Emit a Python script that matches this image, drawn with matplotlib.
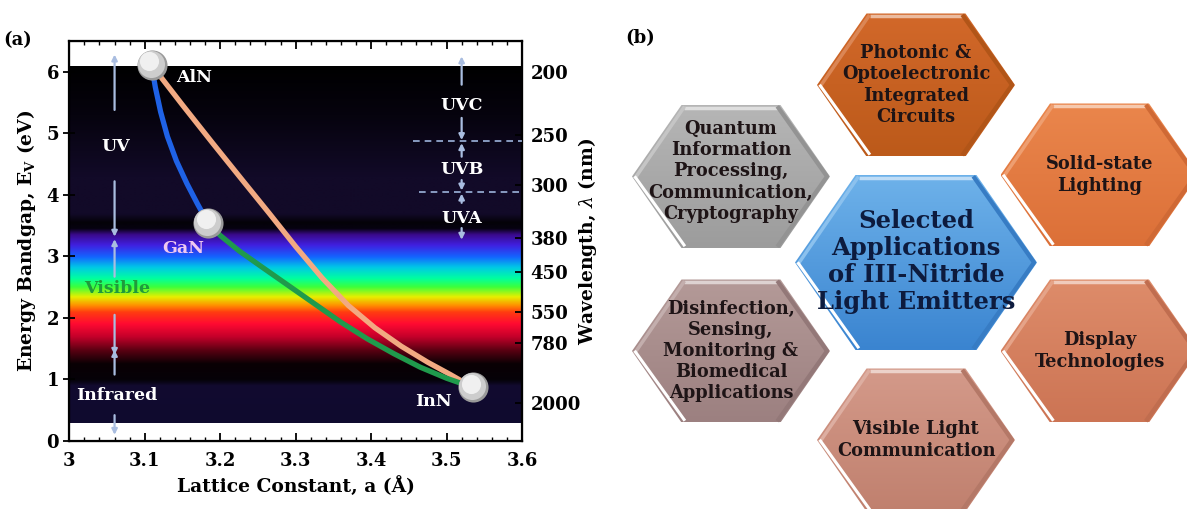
import numpy as np
import matplotlib
matplotlib.use("Agg")
import matplotlib.pyplot as plt
from matplotlib.colors import to_rgb
from matplotlib.patches import Polygon

plt.rcParams['font.family'] = ['DejaVu Serif']
plt.rcParams['mathtext.fontset'] = 'dejavuserif'

# ---- panel (a) data ----
aln = (3.109, 6.11)
gan = (3.184, 3.54)
inn = (3.535, 0.87)
blue_a = [3.109, 3.114, 3.121, 3.130, 3.142, 3.156, 3.170, 3.184]
blue_e = [6.11, 5.75, 5.35, 4.95, 4.55, 4.18, 3.85, 3.54]
peach_a = [3.109, 3.150, 3.190, 3.230, 3.265, 3.300, 3.335, 3.370, 3.405, 3.440, 3.475, 3.505, 3.535]
peach_e = [6.11, 5.46, 4.84, 4.23, 3.70, 3.16, 2.65, 2.20, 1.84, 1.54, 1.28, 1.08, 0.87]
green_a = [3.184, 3.200, 3.225, 3.255, 3.290, 3.325, 3.360, 3.395, 3.430, 3.465, 3.500, 3.535]
green_e = [3.54, 3.34, 3.09, 2.83, 2.53, 2.23, 1.93, 1.66, 1.42, 1.20, 1.02, 0.87]

wl_pos = [6.0, 4.98, 4.16, 3.30, 2.74, 2.10, 1.59, 0.62]
wl_lab = ['200', '250', '300', '380', '450', '550', '780', '2000']

# background spectrum (energy -> colour)
spec_e = [0.30, 0.90, 1.00, 1.26, 1.48, 1.70, 1.91, 2.10, 2.21, 2.35, 2.51,
          2.65, 2.83, 3.00, 3.19, 3.36, 3.46, 3.56, 3.70, 4.30, 5.30, 6.10]
spec_c = ['#0f0a2e', '#120b30', '#050208', '#0a0004', '#5a0012', '#c4002a',
          '#ff0a32', '#ff3c10', '#ff9000', '#e6f000', '#3cff3c', '#00ffa0',
          '#00c8e6', '#1464ff', '#4020e0', '#3a0a8c', '#060210', '#040208',
          '#120a28', '#120a28', '#06030e', '#000000']

left_arrows = [(5.38, 6.28), (4.22, 3.32), (2.67, 3.28), (2.05, 1.40), (1.08, 1.48), (0.42, 0.10)]
right_arrows = [(5.79, 6.25), (5.25, 4.89), (4.62, 4.84), (4.24, 4.07), (3.87, 4.02), (3.46, 3.27)]
dash_lines = [(4.87, 3.456), (4.04, 3.463)]

# ---- panel (b) data ----
hex_x = [731, 916, 1099.5, 731, 916, 1099.5, 916]
hex_y = [176.5, 85, 175, 351, 440, 351, 262.5]
hex_rx = [99, 99, 99, 99, 99, 99, 121]
hex_ry = [71.5, 71.5, 71.5, 71.5, 71.5, 71.5, 87.5]
hex_top = ['#b6b6b6', '#d2682a', '#ea864c', '#b49a98', '#d49a8a', '#de8c6a', '#6eb2ea']
hex_bot = ['#9c9c9c', '#bc5a1a', '#dc7038', '#9c8080', '#c0806e', '#cc7454', '#3a84d0']
hex_text = ['Quantum\nInformation\nProcessing,\nCommunication,\nCryptography',
            'Photonic &\nOptoelectronic\nIntegrated\nCircuits',
            'Solid-state\nLighting',
            'Disinfection,\nSensing,\nMonitoring &\nBiomedical\nApplications',
            'Visible Light\nCommunication',
            'Display\nTechnologies',
            'Selected\nApplications\nof III-Nitride\nLight Emitters']

fig = plt.figure(figsize=(11.87, 5.09), dpi=100)

# ================= panel (a) =================
ax = fig.add_axes([69.3 / 1187, 1 - 441 / 509, (522 - 69.3) / 1187, 400 / 509])
ax.set_xlim(3.0, 3.6)
ax.set_ylim(0, 6.5)

ev = np.linspace(0.3, 6.1, 800)
cols = np.array([to_rgb(c) for c in spec_c])
rgb = np.stack([np.interp(ev, spec_e, cols[:, k]) for k in range(3)], axis=-1)
ax.imshow(rgb[:, None, :], extent=[3.0, 3.6, 0.3, 6.1], origin='lower',
          aspect='auto', interpolation='bilinear', zorder=0)

ax.plot(blue_a, blue_e, color='#1f62e6', lw=3.8, solid_capstyle='round', solid_joinstyle='round', zorder=3)
ax.plot(peach_a, peach_e, color='#f2aa82', lw=3.8, solid_capstyle='round', solid_joinstyle='round', zorder=3)
ax.plot(green_a, green_e, color='#1f9a4c', lw=3.8, solid_capstyle='round', solid_joinstyle='round', zorder=3)

for (bx, by) in [aln, gan, inn]:
    ax.scatter([bx], [by], s=470, color='#9a9a9a', zorder=5, linewidths=0)
    ax.scatter([bx - 0.001], [by + 0.02], s=380, color='#cdcdcd', zorder=6, linewidths=0)
    ax.scatter([bx - 0.003], [by + 0.06], s=190, color='#f0f0f0', zorder=7, linewidths=0)

arrow_col = '#a9bde0'
for (y0, y1) in left_arrows:
    ax.annotate('', xy=(3.060, y1), xytext=(3.060, y0),
                arrowprops=dict(arrowstyle='-|>', color=arrow_col, lw=1.6,
                                mutation_scale=8, shrinkA=0, shrinkB=0), zorder=4)
for (y0, y1) in right_arrows:
    ax.annotate('', xy=(3.520, y1), xytext=(3.520, y0),
                arrowprops=dict(arrowstyle='-|>', color=arrow_col, lw=1.6,
                                mutation_scale=8, shrinkA=0, shrinkB=0), zorder=4)
for (yy, x0) in dash_lines:
    ax.plot([x0, 3.6], [yy, yy], color='#9db4dc', lw=1.2, ls=(0, (4, 3)), zorder=4)

tkw = dict(fontsize=12.5, fontweight='bold', ha='center', va='center', zorder=8)
ax.text(3.165, 5.90, 'AlN', color='white', **tkw)
ax.text(3.151, 3.13, 'GaN', color='#f0c8f0', **tkw)
ax.text(3.482, 0.65, 'InN', color='white', **tkw)
ax.text(3.062, 4.79, 'UV', color='white', **tkw)
ax.text(3.063, 2.48, 'Visible', color='#1f9a3c', **tkw)
ax.text(3.063, 0.74, 'Infrared', color='white', **tkw)
ax.text(3.520, 5.46, 'UVC', color='white', **tkw)
ax.text(3.520, 4.41, 'UVB', color='white', **tkw)
ax.text(3.520, 3.62, 'UVA', color='white', **tkw)

ax.set_xticks(np.arange(3.0, 3.61, 0.1))
ax.set_xticklabels(['3', '3.1', '3.2', '3.3', '3.4', '3.5', '3.6'])
ax.set_xticks(np.arange(3.0, 3.601, 0.02), minor=True)
ax.set_yticks(range(7))
ax.tick_params(axis='x', which='both', direction='in', top=True, labelsize=13, pad=8)
ax.tick_params(axis='x', which='major', length=6, width=1.3)
ax.tick_params(axis='x', which='minor', length=3, width=1.0)
ax.tick_params(axis='y', direction='inout', length=8, width=1.3, labelsize=13)
for lab in ax.get_xticklabels() + ax.get_yticklabels():
    lab.set_fontweight('bold')
for sp in ax.spines.values():
    sp.set_linewidth(1.6)
ax.set_xlabel('Lattice Constant, a (Å)', fontsize=13.5, fontweight='bold', labelpad=4)
ax.set_ylabel(r'Energy Bandgap, E$_{\mathbf{V}}$ (eV)', fontsize=13.5, fontweight='bold', labelpad=6)

ax2 = ax.twinx()
ax2.set_ylim(0, 6.5)
ax2.set_yticks(wl_pos)
ax2.set_yticklabels(wl_lab)
ax2.tick_params(axis='y', direction='in', length=5, width=1.3, labelsize=13, pad=6)
for lab in ax2.get_yticklabels():
    lab.set_fontweight('bold')
ax2.set_ylabel(r'Wavelength, $\lambda$ (nm)', fontsize=13.5, fontweight='bold')
ax2.yaxis.set_label_coords(1.12, 0.5)

fig.text(18 / 1187, 1 - 40 / 509, '(a)', fontsize=13, fontweight='bold', ha='center', va='center')
fig.text(640 / 1187, 1 - 38 / 509, '(b)', fontsize=13, fontweight='bold', ha='center', va='center')

# ================= panel (b) =================
axb = fig.add_axes([600 / 1187, 0, 587 / 1187, 1])
axb.set_xlim(600, 1187)
axb.set_ylim(509, 0)
axb.axis('off')


def mix(c, other, t):
    c = np.array(to_rgb(c))
    o = np.array(to_rgb(other))
    return tuple(c * (1 - t) + o * t)


for i in range(len(hex_x)):
    cx, cy, rx, ry = hex_x[i], hex_y[i], hex_rx[i], hex_ry[i]
    verts = [(cx - rx, cy), (cx - rx / 2, cy - ry), (cx + rx / 2, cy - ry),
             (cx + rx, cy), (cx + rx / 2, cy + ry), (cx - rx / 2, cy + ry)]
    poly = Polygon(verts, closed=True, facecolor='none', edgecolor='none')
    axb.add_patch(poly)
    top = np.array(to_rgb(hex_top[i]))
    bot = np.array(to_rgb(hex_bot[i]))
    t = np.linspace(0, 1, 200)[:, None]
    grad = (top * (1 - t) + bot * t)[:, None, :]
    im = axb.imshow(grad, extent=[cx - rx, cx + rx, cy + ry, cy - ry], origin='upper',
                    aspect='auto', interpolation='bilinear', zorder=1)
    im.set_clip_path(poly)
    # bevel highlights and shadows
    axb.plot([cx - rx / 2 + 3, cx + rx / 2 - 3], [cy - ry + 2.5, cy - ry + 2.5],
             color=mix(hex_top[i], 'white', 0.55), lw=2.5, zorder=2, solid_capstyle='butt')
    axb.plot([cx - rx + 3.5, cx - rx / 2 + 2], [cy + 1, cy - ry + 3],
             color=mix(hex_top[i], 'white', 0.2), lw=2.5, zorder=2)
    axb.plot([cx - rx + 3.5, cx - rx / 2 + 2.5], [cy + 1, cy + ry - 3],
             color='white', lw=2.2, zorder=2)
    axb.plot([cx + rx / 2 - 2, cx + rx - 3, cx + rx / 2 - 2],
             [cy - ry + 3, cy, cy + ry - 3],
             color=mix(hex_bot[i], 'black', 0.06), lw=3, zorder=2)
    if i == 6:
        axb.text(cx, cy - 1, hex_text[i], fontsize=17.5, fontweight='bold', color='#0d1b3e',
                 ha='center', va='center', linespacing=1.17, zorder=3)
    else:
        dy = -5 if i == 0 else 0
        axb.text(cx, cy + dy, hex_text[i], fontsize=12.8, fontweight='bold', color='#1e1416',
                 ha='center', va='center', linespacing=1.22, zorder=3)

fig.savefig('out.png', dpi=100)
